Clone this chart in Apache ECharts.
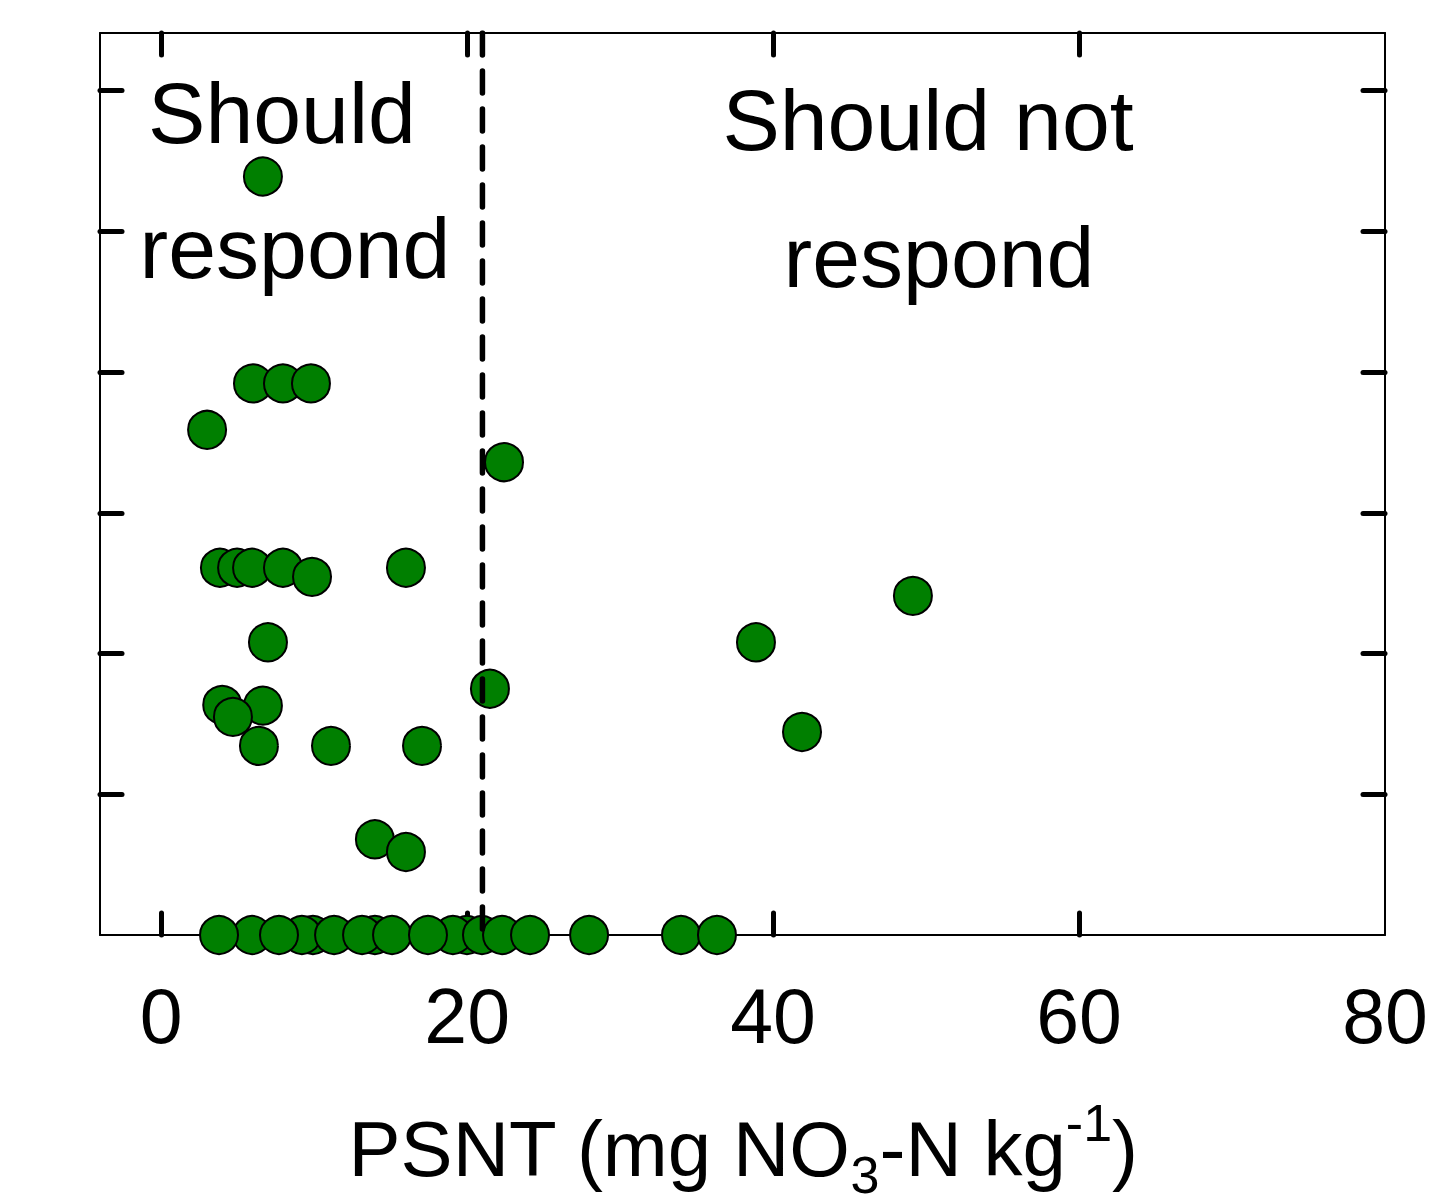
<!DOCTYPE html>
<html>
<head>
<meta charset="utf-8">
<script src="https://cdn.jsdelivr.net/npm/echarts@6/dist/echarts.min.js"></script>
<style>
  html, body { margin: 0; padding: 0; background: #ffffff; }
  #chart { width: 1454px; height: 1204px; }
</style>
</head>
<body>
<div id="chart"></div>
<script>
// ---- data ----
// PSNT values (mg NO3-N kg-1)
const psnt = [
  5.94, 9.92, 13.97, 19.99, 9.20, 3.78, 7.70, 11.30, 13.13, 15.09, 19.07, 17.44, 20.97, 22.28, 24.11, 27.97, 33.98, 36.33,
  6.65,
  6.00, 7.96, 9.79,
  3.00,
  22.41,
  3.84, 4.96, 5.94, 7.96, 9.86, 16.00,
  49.14,
  6.98, 38.88,
  21.49,
  3.99, 6.65, 6.39, 4.69, 11.10, 17.05,
  41.89,
  13.97, 16.00
];
// response values (no axis labels in the original; unit = one tick step)
const response = [
  0, 0, 0, 0, 0, 0, 0, 0, 0, 0, 0, 0, 0, 0, 0, 0, 0, 0,
  5.39,
  3.92, 3.92, 3.92,
  3.59,
  3.36,
  2.61, 2.61, 2.61, 2.61, 2.545, 2.61,
  2.41,
  2.08, 2.08,
  1.75,
  1.635, 1.63, 1.344, 1.55, 1.344, 1.344,
  1.443,
  0.68, 0.59
];
const xTickValues = [0, 20, 40, 60];
const xLabelValues = [0, 20, 40, 60, 80];
const yTickValues = [1, 2, 3, 4, 5, 6];
const X_MIN = -4, X_MAX = 80;
const Y_MIN = 0, Y_MAX = 6.41;
const THRESHOLD = 21;
const regionLabels = ['Should', 'respond', 'Should not', 'respond'];

// ---- chart ----
const FONT = "'Liberation Sans', Arial, Helvetica, sans-serif";
const points = psnt.map((x, i) => [x, response[i]]);

const tickStyle = { show: true, inside: true, length: 22, lineStyle: { color: '#000', width: 5, cap: 'round' } };
const lineStyle = { show: true, onZero: false, lineStyle: { color: '#000', width: 2 } };

const chart = echarts.init(document.getElementById('chart'), null, { renderer: 'svg' });
chart.setOption({
  backgroundColor: '#ffffff',
  animation: false,
  grid: { left: 100, right: 69, top: 33, bottom: 269, containLabel: false },
  xAxis: [
    {
      type: 'value', position: 'bottom', min: X_MIN, max: X_MAX,
      axisLine: lineStyle,
      axisTick: Object.assign({}, tickStyle, { customValues: xTickValues }),
      axisLabel: { customValues: xLabelValues, color: '#000', fontSize: 77, fontFamily: FONT, margin: 42 },
      splitLine: { show: false }
    },
    {
      type: 'value', position: 'top', min: X_MIN, max: X_MAX,
      axisLine: lineStyle,
      axisTick: Object.assign({}, tickStyle, { customValues: xTickValues }),
      axisLabel: { show: false },
      splitLine: { show: false }
    }
  ],
  yAxis: [
    {
      type: 'value', position: 'left', min: Y_MIN, max: Y_MAX,
      axisLine: lineStyle,
      axisTick: Object.assign({}, tickStyle, { customValues: yTickValues }),
      axisLabel: { show: false },
      splitLine: { show: false }
    },
    {
      type: 'value', position: 'right', min: Y_MIN, max: Y_MAX,
      axisLine: lineStyle,
      axisTick: Object.assign({}, tickStyle, { customValues: yTickValues }),
      axisLabel: { show: false },
      splitLine: { show: false }
    }
  ],
  series: [
    {
      type: 'scatter',
      xAxisIndex: 0, yAxisIndex: 0,
      data: points,
      symbol: 'circle',
      symbolSize: 38,
      itemStyle: { color: '#007f00', borderColor: '#000', borderWidth: 2, opacity: 1 },
      emphasis: { disabled: true },
      z: 2
    },
    {
      type: 'line',
      xAxisIndex: 0, yAxisIndex: 0,
      data: [[THRESHOLD, Y_MAX], [THRESHOLD, Y_MIN]],
      symbol: 'none',
      lineStyle: { color: '#000', width: 5.5, type: [22, 16], cap: 'round' },
      silent: true,
      z: 5
    }
  ],
  graphic: [
    { type: 'text', z: 10, style: { text: regionLabels[0], x: 282, y: 113, font: '86px ' + FONT, fill: '#000', align: 'center', verticalAlign: 'middle', textAlign: 'center', textVerticalAlign: 'middle' } },
    { type: 'text', z: 10, style: { text: regionLabels[1], x: 295, y: 248, font: '86px ' + FONT, fill: '#000', align: 'center', verticalAlign: 'middle', textAlign: 'center', textVerticalAlign: 'middle' } },
    { type: 'text', z: 10, style: { text: regionLabels[2], x: 928, y: 120, font: '86px ' + FONT, fill: '#000', align: 'center', verticalAlign: 'middle', textAlign: 'center', textVerticalAlign: 'middle' } },
    { type: 'text', z: 10, style: { text: regionLabels[3], x: 939, y: 257, font: '86px ' + FONT, fill: '#000', align: 'center', verticalAlign: 'middle', textAlign: 'center', textVerticalAlign: 'middle' } },
    {
      type: 'text', z: 10,
      style: {
        text: '{a|PSNT (mg NO}{s|3}{a|-N kg}{p|-1}{a|)}',
        x: 743, y: 1149,
        align: 'center', verticalAlign: 'middle', textAlign: 'center', textVerticalAlign: 'middle',
        fill: '#000',
        rich: {
          a: { fontSize: 78, fontFamily: FONT, color: '#000', fill: '#000' },
          s: { fontSize: 52, fontFamily: FONT, color: '#000', fill: '#000', height: 26, verticalAlign: 'bottom' },
          p: { fontSize: 52, fontFamily: FONT, color: '#000', fill: '#000', height: 26, verticalAlign: 'top' }
        }
      }
    }
  ]
});
</script>
</body>
</html>
